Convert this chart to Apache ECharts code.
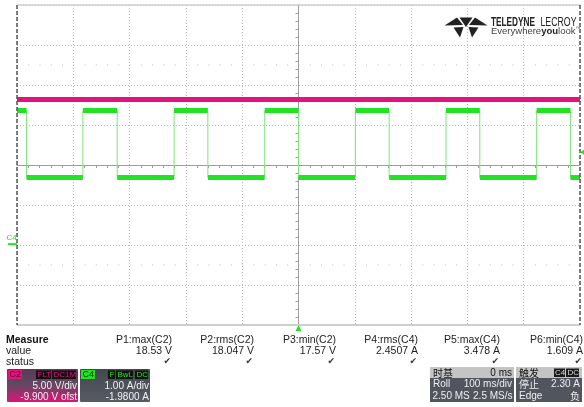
<!DOCTYPE html>
<html>
<head>
<meta charset="utf-8">
<script src="https://cdn.jsdelivr.net/npm/echarts@6/dist/echarts.min.js"></script>
<style>
  html, body { margin: 0; padding: 0; background: #fff; }
  #scope { width: 584px; height: 407px; }
</style>
</head>
<body>
<div id="scope"></div>
<script>
// ---- Acquisition settings ----
const timePerDiv = 100;          // ms/div, 10 divisions, trigger at centre
const timeSpan = [-500, 500];    // ms
const divisions = 4;             // half-screen vertical divisions

// C2: supply voltage, 5.00 V/div, offset -9.900 V
const c2VoltsPerDiv = 5.0;
const c2Offset = -9.9;
const c2Times = [-500, 500];
const c2Values = [18.1, 18.1];

// C4: load current, 1.00 A/div, offset -1.9800 A
const c4AmpsPerDiv = 1.0;
const c4Offset = -1.98;
// switching instants (ms); the trace starts high, edges alternate falling / rising
const c4Edges = [-483, -383, -322, -221, -161, -60, 0, 101, 161, 262, 322, 423, 483];
const c4High = 3.34;
const c4Low = 1.67;
const c4TriggerLevel = 2.30;

// Measurement table
const measNames  = ['P1:max(C2)', 'P2:rms(C2)', 'P3:min(C2)', 'P4:rms(C4)', 'P5:max(C4)', 'P6:min(C4)'];
const measValues = ['18.53 V', '18.047 V', '17.57 V', '2.4507 A', '3.478 A', '1.609 A'];

// ---- Trace construction ----
const c2Data = c2Times.map((t, i) => [t, c2Values[i]]);

const bounds = [timeSpan[0]].concat(c4Edges, [timeSpan[1]]);
const c4Plateaus = [];
for (let i = 0; i < bounds.length - 1; i++) {
  const lvl = i % 2 === 0 ? c4High : c4Low;
  c4Plateaus.push([bounds[i], lvl], [bounds[i + 1], lvl], [bounds[i + 1], '-']);
}
const c4Transitions = [];
c4Edges.forEach(t => { c4Transitions.push([t, c4Low], [t, c4High], [t, '-']); });

const FONT = '"Liberation Sans", Arial, sans-serif';
const CJK = '"Noto Sans CJK SC", "Liberation Sans", sans-serif';
const GREEN = '#22e322';
const MAGENTA = '#e5127b';

const chart = echarts.init(document.getElementById('scope'), null, { renderer: 'canvas' });

const c2Center = -c2Offset, c4Center = -c4Offset;

chart.setOption({
  backgroundColor: '#ffffff',
  animation: false,
  grid: { left: 17, top: 5, width: 563, height: 320, containLabel: false },
  xAxis: {
    type: 'value', min: timeSpan[0], max: timeSpan[1], interval: timePerDiv,
    axisLabel: { show: false },
    axisTick: { show: false },
    axisLine: { show: true, onZero: true, onZeroAxisIndex: 0, lineStyle: { color: '#9c9c9c', width: 1 } },
    minorTick: { show: true, splitNumber: 5, length: 3, lineStyle: { color: '#9c9c9c' } },
    splitLine: { show: true, lineStyle: { color: '#b8b8b8', type: [1, 2], width: 1 } }
  },
  yAxis: [
    {
      type: 'value', min: -divisions, max: divisions, interval: 1,
      axisLabel: { show: false },
      axisTick: { show: false },
      axisLine: { show: true, onZero: true, lineStyle: { color: '#9c9c9c', width: 1 } },
      minorTick: { show: true, splitNumber: 5, length: 3, lineStyle: { color: '#9c9c9c' } },
      splitLine: { show: true, lineStyle: { color: '#b8b8b8', type: [1, 2], width: 1 } }
    },
    { type: 'value', show: false, min: c2Center - divisions * c2VoltsPerDiv, max: c2Center + divisions * c2VoltsPerDiv, splitLine: { show: false } },
    { type: 'value', show: false, min: c4Center - divisions * c4AmpsPerDiv, max: c4Center + divisions * c4AmpsPerDiv, splitLine: { show: false } }
  ],
  series: [
    {
      name: 'C4 edges', type: 'line', yAxisIndex: 2, data: c4Transitions,
      symbol: 'none', connectNulls: false, silent: true, z: 3,
      lineStyle: { color: '#7fe27f', width: 1 }
    },
    {
      name: 'C4', type: 'line', yAxisIndex: 2, data: c4Plateaus,
      symbol: 'none', connectNulls: false, silent: true, z: 4,
      lineStyle: { color: GREEN, width: 5, cap: 'butt' }
    },
    {
      name: 'C2', type: 'line', yAxisIndex: 1, data: c2Data,
      symbol: 'none', silent: true, z: 5,
      lineStyle: { color: MAGENTA, width: 5 }
    }
  ]
});

// ---- Screen furniture: frame, markers, logo, readout panel ----
const px = v => chart.convertToPixel({ xAxisIndex: 0 }, v);
const pyDiv = v => chart.convertToPixel({ yAxisIndex: 0 }, v);
const pyC4 = v => chart.convertToPixel({ yAxisIndex: 2 }, v);

const L = px(timeSpan[0]), R = px(timeSpan[1]);
const T = pyDiv(divisions), B = pyDiv(-divisions);

function text(x, y, s, opt) {
  const st = Object.assign({
    text: s, fill: '#222', font: '10.5px ' + FONT,
    align: 'left', textAlign: 'left', verticalAlign: 'middle', textVerticalAlign: 'middle'
  }, opt || {});
  if (st.align) st.textAlign = st.align;
  return { type: 'text', x: x, y: y, z: 100, style: st };
}
function rect(x, y, w, h, fill, r) {
  return { type: 'rect', z: 90, shape: { x: x, y: y, width: w, height: h, r: r || 0 }, style: { fill: fill } };
}
function line(x1, y1, x2, y2, stroke, w, dash) {
  return { type: 'line', z: 95, shape: { x1: x1, y1: y1, x2: x2, y2: y2 },
    style: { stroke: stroke, lineWidth: w, lineDash: dash || null } };
}
function poly(points, fill) {
  return { type: 'polygon', z: 95, shape: { points: points }, style: { fill: fill } };
}

const g = [];

// frame
g.push(line(L, T, R, T, '#cfcfcf', 1.5));
g.push(line(L, B, R, B, '#cfcfcf', 2));
g.push(line(L, T, L, B, '#555555', 1.5, [4, 2]));
g.push(line(R, T, R, B, '#555555', 1.5, [4, 2]));

// sparse dotted rows at +/- 2.5 divisions
const dotStep = (R - L) / 50;
[2.5, -2.5].forEach(d => {
  const y = pyDiv(d);
  g.push(line(L + dotStep, y, R, y, '#bdbdbd', 1, [1, dotStep - 1]));
});

// C4 ground marker
const c4Zero = pyC4(0);
g.push(text(6.5, c4Zero - 6, 'C4', { fill: GREEN, font: '8px ' + FONT }));
g.push(line(8, c4Zero, L, c4Zero, GREEN, 2));

// trigger level arrow (right edge)
const trigY = pyC4(c4TriggerLevel);
g.push(poly([[R, trigY], [R + 4, trigY - 2.5], [R + 4, trigY + 2.5]], GREEN));

// trigger time marker (bottom)
const x0 = px(0);
g.push(poly([[x0, B], [x0 - 3, B + 6], [x0 + 3, B + 6]], GREEN));

// logo
const ink = '#222222';
g.push(poly([[444.5, 25.5], [457, 17.5], [463, 25]], ink));
g.push(poly([[487.5, 25.5], [475, 17.5], [469, 25]], ink));
g.push(poly([[459.5, 17.5], [472.5, 17.5], [466, 27]], ink));
g.push(poly([[453.5, 27.5], [463.5, 27], [460, 37.5]], ink));
g.push(poly([[478.5, 27.5], [468.5, 27], [472, 37.5]], ink));
g.push(Object.assign(text(491, 22.5, 'TELEDYNE', { fill: ink, font: 'bold 12.5px ' + FONT }), { scaleX: 0.66 }));
g.push(Object.assign(text(540.5, 22.5, 'LECROY', { fill: ink, font: '12.5px ' + FONT }), { scaleX: 0.7 }));
g.push({
  type: 'text', x: 491, y: 31.5, z: 100,
  style: {
    text: '{a|Everywhere}{b|you}{a|look}{c|™}',
    verticalAlign: 'middle', textVerticalAlign: 'middle',
    rich: {
      a: { font: '9.5px ' + FONT, fill: '#444' },
      b: { font: 'bold 9.5px ' + FONT, fill: '#222' },
      c: { font: '5px ' + FONT, fill: '#444', verticalAlign: 'top' }
    }
  }
});

// measurement table
g.push(text(6, 340, 'Measure', { font: 'bold 10.5px ' + FONT, fill: '#111' }));
g.push(text(6, 351, 'value', { fill: '#222' }));
g.push(text(6, 362, 'status', { fill: '#222' }));
const colRight = [172, 254, 336, 418, 500, 583];
measNames.forEach((n, i) => {
  g.push(text(colRight[i], 340, n, { align: 'right' }));
  g.push(text(colRight[i], 351, measValues[i], { align: 'right' }));
  g.push(text(colRight[i] - 1, 361.5, '✔', { align: 'right', fill: '#333', font: '9px "DejaVu Sans", sans-serif' }));
});

const BOX_FONT = '10px ' + FONT;

// C2 channel box
g.push({
  type: 'rect', z: 90, shape: { x: 7, y: 369, width: 71, height: 33, r: 1 },
  style: { fill: new echarts.graphic.LinearGradient(0, 0, 0, 1, [
    { offset: 0, color: '#5a3a55' }, { offset: 0.45, color: '#5e4a60' }, { offset: 1, color: '#dc1479' }
  ]) }
});
g.push(rect(8, 370, 14, 9, MAGENTA));
g.push(text(9.5, 374.8, 'C2', { fill: '#5a0630', font: '9px ' + FONT }));
g.push(rect(36, 370.5, 15, 8.5, '#111'));
g.push(text(37.5, 374.8, 'FLT', { fill: MAGENTA, font: '8px ' + FONT }));
g.push(rect(52, 370.5, 24, 8.5, '#111'));
g.push(text(53.5, 374.8, 'DC1M', { fill: MAGENTA, font: '8px ' + FONT }));
g.push(text(77, 386, '5.00 V/div', { align: 'right', fill: '#f2f2f2', font: BOX_FONT }));
g.push(text(77, 397, '-9.900 V ofst', { align: 'right', fill: '#f5f5f5', font: BOX_FONT }));

// C4 channel box
g.push({
  type: 'rect', z: 90, shape: { x: 80, y: 369, width: 70, height: 33, r: 1 },
  style: { fill: new echarts.graphic.LinearGradient(0, 0, 0, 1, [
    { offset: 0, color: '#44484f' }, { offset: 1, color: '#565b64' }
  ]) }
});
g.push(rect(81, 370, 14, 9, GREEN));
g.push(text(82.5, 374.8, 'C4', { fill: '#0a3a0a', font: '9px ' + FONT }));
g.push(rect(108, 370.5, 7, 8.5, '#111'));
g.push(text(109.5, 374.8, 'F', { fill: GREEN, font: '8px ' + FONT }));
g.push(rect(116, 370.5, 17, 8.5, '#111'));
g.push(text(117.5, 374.8, 'BwL', { fill: GREEN, font: '8px ' + FONT }));
g.push(rect(135, 370.5, 13, 8.5, '#111'));
g.push(text(136.5, 374.8, 'DC', { fill: GREEN, font: '8px ' + FONT }));
g.push(text(149, 386, '1.00 A/div', { align: 'right', fill: '#f2f2f2', font: BOX_FONT }));
g.push(text(149, 397, '-1.9800 A', { align: 'right', fill: '#f2f2f2', font: BOX_FONT }));

// timebase box
g.push(rect(430, 367, 84, 11, '#c4c4c4'));
g.push(rect(430, 378, 84, 24, '#50555e'));
g.push(text(433, 372.8, '时基', { fill: '#111', font: '10px ' + CJK }));
g.push(text(512, 372.8, '0 ms', { align: 'right', fill: '#111', font: BOX_FONT }));
g.push(text(433, 384.5, 'Roll', { fill: '#eeeeee', font: BOX_FONT }));
g.push(text(512, 384.5, '100 ms/div', { align: 'right', fill: '#eeeeee', font: BOX_FONT }));
g.push(text(432.5, 396.5, '2.50 MS', { fill: '#eeeeee', font: BOX_FONT }));
g.push(text(512.5, 396.5, '2.5 MS/s', { align: 'right', fill: '#eeeeee', font: BOX_FONT }));

// trigger box
g.push(rect(516, 367, 66, 11, '#c4c4c4'));
g.push(rect(516, 378, 66, 24, '#50555e'));
g.push(text(519, 372.8, '触发', { fill: '#111', font: '10px ' + CJK }));
g.push(rect(554, 368.5, 11, 8.5, '#1a1a1a'));
g.push(text(555, 372.8, 'C4', { fill: '#d8d8d8', font: '8px ' + FONT }));
g.push(rect(566, 368.5, 13, 8.5, '#1a1a1a'));
g.push(text(567.5, 372.8, 'DC', { fill: '#d8d8d8', font: '8px ' + FONT }));
g.push(text(519, 384.5, '停止', { fill: '#eeeeee', font: '10px ' + CJK }));
g.push(text(580, 384.5, '2.30 A', { align: 'right', fill: '#eeeeee', font: BOX_FONT }));
g.push(text(519, 396.5, 'Edge', { fill: '#eeeeee', font: BOX_FONT }));
g.push(text(580, 396.5, '负', { align: 'right', fill: '#eeeeee', font: '10px ' + CJK }));

chart.setOption({ graphic: { elements: g } });
</script>
</body>
</html>
